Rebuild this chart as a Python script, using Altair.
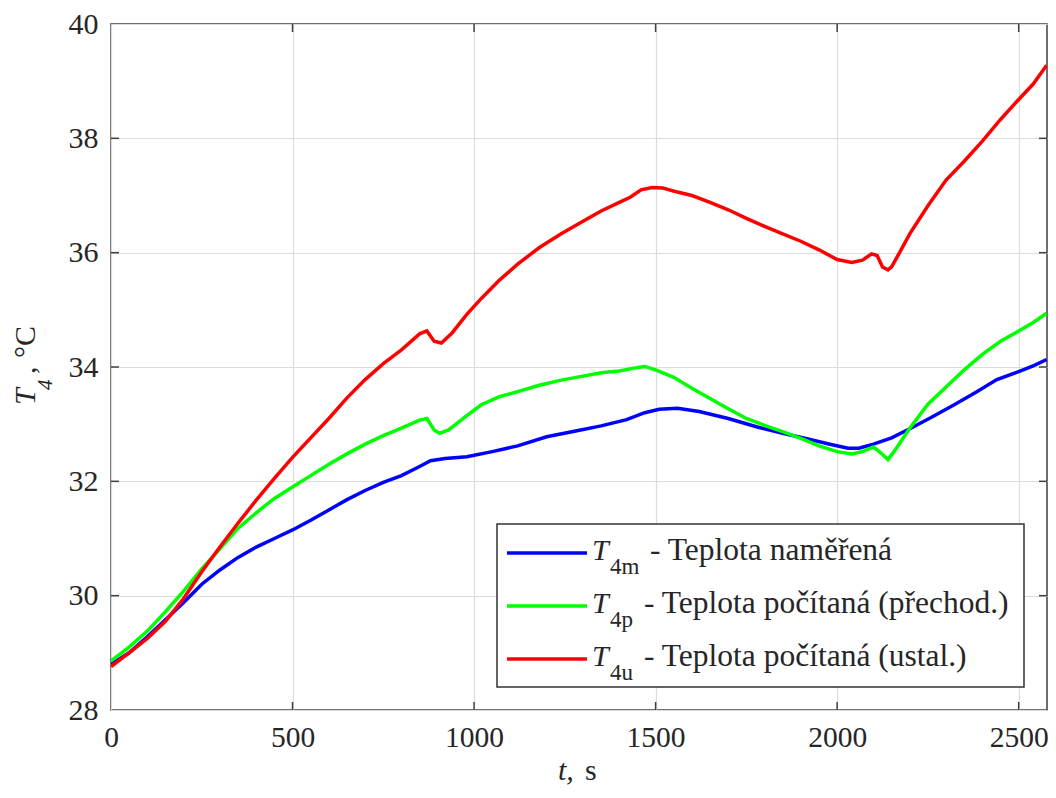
import altair as alt
import pandas as pd

# ---- data ----
t_m = [0, 50, 100, 150, 200, 250, 300, 350, 400, 450, 500, 550, 600, 650, 700, 750, 800, 850, 880, 920,
       980, 1050, 1120, 1200, 1280, 1350, 1420, 1470, 1510, 1560, 1620, 1700, 1780, 1850, 1920, 1980,
       2030, 2060, 2100, 2150, 2200, 2260, 2320, 2380, 2440, 2500, 2540, 2577]
v_m = [28.80, 29.00, 29.28, 29.58, 29.88, 30.20, 30.45, 30.67, 30.85, 31.00, 31.15, 31.32, 31.50, 31.68,
       31.84, 31.98, 32.10, 32.26, 32.36, 32.40, 32.43, 32.52, 32.62, 32.78, 32.88, 32.97, 33.08, 33.20,
       33.26, 33.28, 33.22, 33.10, 32.95, 32.84, 32.74, 32.65, 32.58, 32.58, 32.65, 32.76, 32.92, 33.12,
       33.33, 33.55, 33.78, 33.92, 34.02, 34.13]

t_p = [0, 50, 100, 150, 200, 250, 300, 350, 400, 450, 500, 550, 600, 650, 700, 750, 800, 850, 870, 890,
       905, 930, 980, 1020, 1070, 1120, 1180, 1240, 1300, 1350, 1400, 1440, 1470, 1500, 1550, 1600, 1650,
       1700, 1750, 1800, 1850, 1900, 1950, 2000, 2040, 2070, 2100, 2120, 2140, 2160, 2200, 2250, 2300,
       2350, 2400, 2450, 2500, 2540, 2577]
v_p = [28.86, 29.10, 29.38, 29.72, 30.08, 30.47, 30.82, 31.18, 31.45, 31.70, 31.90, 32.10, 32.30, 32.48,
       32.65, 32.80, 32.93, 33.07, 33.10, 32.90, 32.84, 32.90, 33.15, 33.34, 33.48, 33.57, 33.68, 33.77,
       33.84, 33.90, 33.93, 33.98, 34.01, 33.95, 33.82, 33.63, 33.45, 33.27, 33.10, 32.98, 32.87, 32.75,
       32.62, 32.52, 32.48, 32.52, 32.60, 32.50, 32.38, 32.55, 32.93, 33.35, 33.65, 33.95, 34.22, 34.45,
       34.63, 34.78, 34.94]

t_u = [0, 50, 100, 150, 200, 250, 300, 350, 400, 450, 500, 550, 600, 650, 700, 750, 800, 850, 870, 890,
       910, 940, 980, 1020, 1070, 1120, 1180, 1240, 1300, 1350, 1400, 1430, 1460, 1490, 1520, 1560, 1600,
       1650, 1700, 1750, 1800, 1850, 1900, 1950, 2000, 2040, 2070, 2095, 2110, 2125, 2140, 2150, 2170,
       2200, 2250, 2300, 2350, 2400, 2450, 2500, 2540, 2577]
v_u = [28.76, 29.00, 29.25, 29.55, 29.95, 30.42, 30.85, 31.27, 31.67, 32.05, 32.42, 32.76, 33.10, 33.46,
       33.78, 34.06, 34.30, 34.58, 34.63, 34.45, 34.42, 34.60, 34.92, 35.20, 35.52, 35.80, 36.09, 36.33,
       36.55, 36.73, 36.88, 36.97, 37.10, 37.14, 37.13, 37.06, 37.00, 36.88, 36.75, 36.60, 36.46, 36.33,
       36.20, 36.05, 35.88, 35.83, 35.87, 35.98, 35.95, 35.75, 35.70, 35.75, 35.98, 36.33, 36.82, 37.27,
       37.60, 37.95, 38.33, 38.68, 38.95, 39.28]

series_keys = ["4m", "4p", "4u"]
series_desc = ["- Teplota naměřená", "- Teplota počítaná (přechod.)", "- Teplota počítaná (ustal.)"]
series_colors = ["#0000ff", "#00ff00", "#ff0000"]

x_ticks = [0, 500, 1000, 1500, 2000, 2500]
y_ticks = [28, 30, 32, 34, 36, 38, 40]

# ---- layout ----
W, H = 936, 686
X_MAX = 2578
FONT = "Liberation Serif"
TXT = "#262626"
FRAME = "#404040"

frames = []
for key, tt, vv in zip(series_keys, [t_m, t_p, t_u], [v_m, v_p, v_u]):
    frames.append(pd.DataFrame({"t": tt, "v": vv, "s": key}))
df = pd.concat(frames, ignore_index=True)

xs = alt.Scale(domain=[0, X_MAX], nice=False, zero=False)
ys = alt.Scale(domain=[28, 40], nice=False, zero=False)

x_axis = alt.Axis(values=x_ticks, format="d", grid=True, gridColor="#dcdcdc", gridWidth=1.2, ticks=False,
                  domain=False, labelFont=FONT, labelFontSize=29.5, labelColor=TXT, labelPadding=13,
                  title=None, labelFlush=False)
y_axis = alt.Axis(values=y_ticks, format="d", grid=True, gridColor="#dcdcdc", gridWidth=1.2, ticks=False,
                  domain=False, labelFont=FONT, labelFontSize=30, labelColor=TXT, labelPadding=13,
                  title=None, labelFlush=False)

lines = alt.Chart(df).mark_line(strokeWidth=3.5, clip=True).encode(
    x=alt.X("t:Q", scale=xs, axis=x_axis),
    y=alt.Y("v:Q", scale=ys, axis=y_axis),
    color=alt.Color("s:N", scale=alt.Scale(domain=series_keys, range=series_colors), legend=None),
)

xt_df = pd.DataFrame({"t": x_ticks[1:]})
yt_df = pd.DataFrame({"v": y_ticks[1:-1]})
tick_style = dict(color=FRAME, strokeWidth=1.5)
xt_bottom = alt.Chart(xt_df).mark_rule(**tick_style).encode(
    x=alt.X("t:Q", scale=xs, axis=x_axis), y=alt.value(H), y2=alt.value(H - 8))
xt_top = alt.Chart(xt_df).mark_rule(**tick_style).encode(
    x=alt.X("t:Q", scale=xs, axis=x_axis), y=alt.value(0), y2=alt.value(8))
yt_left = alt.Chart(yt_df).mark_rule(**tick_style).encode(
    y=alt.Y("v:Q", scale=ys, axis=y_axis), x=alt.value(0), x2=alt.value(8))
yt_right = alt.Chart(yt_df).mark_rule(**tick_style).encode(
    y=alt.Y("v:Q", scale=ys, axis=y_axis), x=alt.value(W), x2=alt.value(W - 8))

one = pd.DataFrame({"a": [0]})


def txt(s, x, y, size=30, italic=False, angle=0):
    kw = dict(font=FONT, fontSize=size, color=TXT, align="left", baseline="alphabetic")
    if italic:
        kw["fontStyle"] = "italic"
    if angle:
        kw["angle"] = angle
    return alt.Chart(one).mark_text(**kw).encode(x=alt.value(x), y=alt.value(y), text=alt.value(s))


# legend
layers = [lines, xt_bottom, xt_top, yt_left, yt_right]
box = alt.Chart(one).mark_rect(fill="white", stroke="#333333", strokeWidth=1.5).encode(
    x=alt.value(386), x2=alt.value(913), y=alt.value(500), y2=alt.value(663))
layers.append(box)
sub_w = {"4m": 30, "4p": 24, "4u": 24}
for i, (key, desc, col) in enumerate(zip(series_keys, series_desc, series_colors)):
    ly = 529 + 53 * i
    layers.append(alt.Chart(one).mark_rule(color=col, strokeWidth=3.5).encode(
        x=alt.value(396), x2=alt.value(476), y=alt.value(ly)))
    layers.append(txt("T", 481, ly + 7, size=30, italic=True))
    layers.append(txt(key, 499, ly + 21, size=23))
    layers.append(txt(desc, 499 + sub_w[key] + 10, ly + 7, size=31.5))

# axis titles
layers.append(txt("t,", 447, 756, italic=True))
layers.append(txt("s", 474, 756))
layers.append(txt("T", -76, 381, italic=True, angle=270))
layers.append(txt("4", -59, 366, size=21, italic=True, angle=270))
layers.append(txt(",", -76, 350, angle=270))
layers.append(txt("°C", -76, 334, angle=270))

chart = alt.layer(*layers).properties(
    width=W, height=H,
    autosize=alt.AutoSizeParams(type="none"),
    padding={"left": 103, "top": 16, "right": 1, "bottom": 78},
    background="white",
).configure_view(stroke=FRAME, strokeWidth=1.5)

chart.save("out.html", embed_options={"renderer": "svg", "actions": False})
